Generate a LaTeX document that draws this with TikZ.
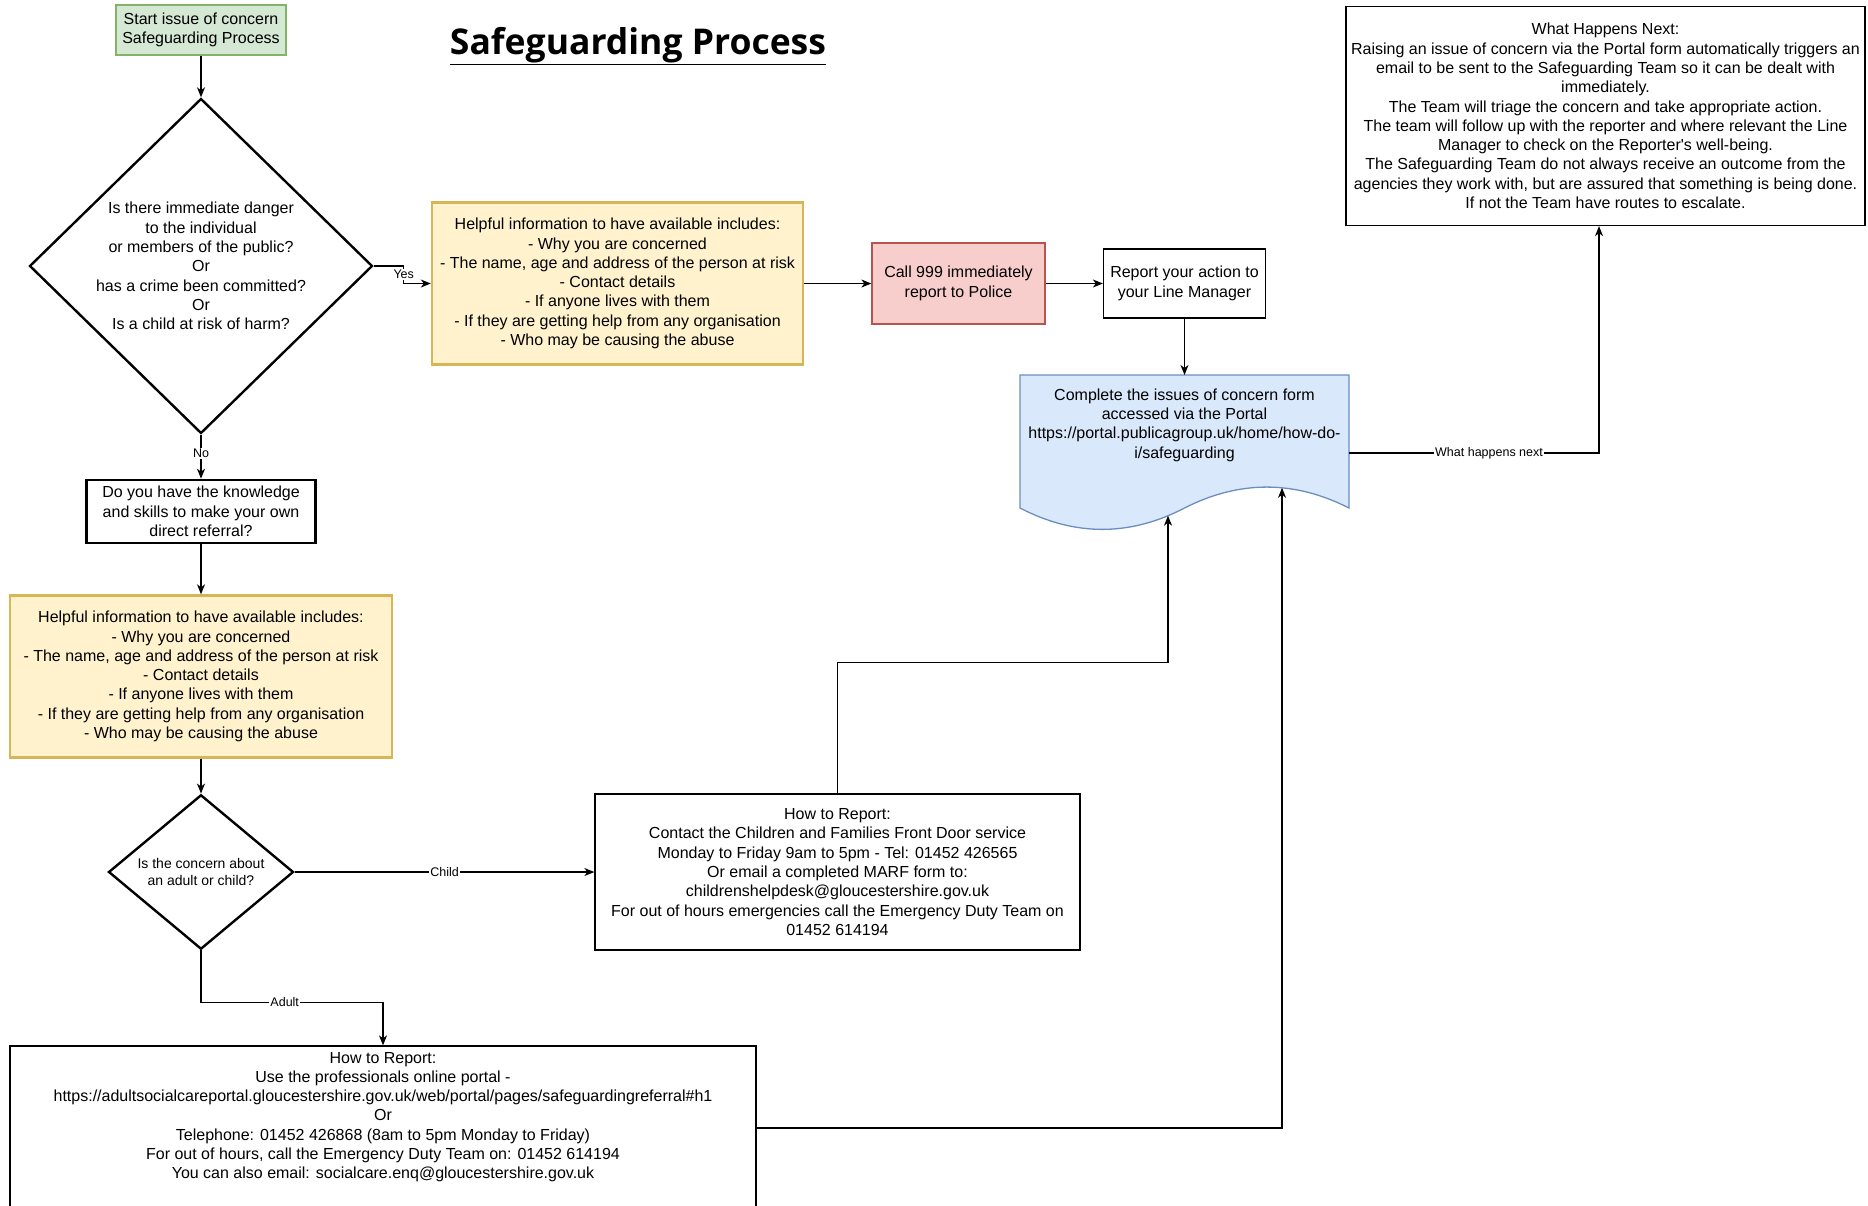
\documentclass[tikz,border=0pt]{standalone}
\usepackage{fontspec}
\setmainfont{Liberation Sans}
\newfontfamily\titlefont{Open Sans}
\usetikzlibrary{shapes.geometric, arrows.meta, calc}
\definecolor{greenfill}{HTML}{D5E8D4}
\definecolor{greenline}{HTML}{82B366}
\definecolor{yellowfill}{HTML}{FFF2CC}
\definecolor{yellowline}{HTML}{D6B656}
\definecolor{redfill}{HTML}{F8CECC}
\definecolor{redline}{HTML}{B85450}
\definecolor{bluefill}{HTML}{DAE8FC}
\definecolor{blueline}{HTML}{6C8EBF}
\tikzset{
    box/.style={
        rectangle, draw=black, fill=white, line width=1.3pt, inner sep=0pt,
        align=center, font=\fontsize{16}{19.3}\selectfont
    },
    startbox/.style={box, draw=greenline, fill=greenfill, line width=2pt},
    infobox/.style={box, draw=yellowline, fill=yellowfill, line width=2.4pt},
    policebox/.style={box, draw=redline, fill=redfill},
    boldbox/.style={box, line width=2.6pt},
    decision/.style={box, diamond, line width=2.4pt},
    doctext/.style={inner sep=0pt, align=center, font=\fontsize{16}{19.3}\selectfont},
    docshape/.style={draw=blueline, fill=bluefill, line width=1.3pt},
    arrow/.style={-{Stealth[length=10pt, width=8pt, inset=3pt]}, line width=1.2pt},
    edgelabel/.style={fill=white, inner sep=1pt, font=\fontsize{12.5}{14}\selectfont},
}
\begin{document}
\begin{tikzpicture}[x=1pt, y=-1pt]
\useasboundingbox (0,0) rectangle (1868,1205);

% title
\node[anchor=base, font=\titlefont\bfseries\fontsize{35.5}{40}\selectfont] (title) at (638,54) {\underline{Safeguarding Process}};

% left column
\node[startbox, minimum width=170, minimum height=50] (start) at (201,30) {Start issue of concern\\Safeguarding Process};
\node[decision, inner sep=-2pt, minimum width=343, minimum height=335] (danger) at (201,266)
    {Is there immediate danger\\to the individual\\or members of the public?\\Or\\has a crime been committed?\\Or\\Is a child at risk of harm?};
\node[boldbox, minimum width=229, minimum height=63] (skills) at (201,511.5)
    {Do you have the knowledge\\and skills to make your own\\direct referral?};
\node[infobox, minimum width=382, minimum height=162] (info2) at (201,676.5)
    {Helpful information to have available includes:\\- Why you are concerned\\- The name, age and address of the person at risk\\- Contact details\\- If anyone lives with them\\- If they are getting help from any organisation\\- Who may be causing the abuse};
\node[decision, font=\fontsize{14}{17.3}\selectfont, minimum width=185, minimum height=138] (who) at (201,872)
    {Is the concern about\\an adult or child?};

% top row
\node[infobox, minimum width=371, minimum height=162] (info1) at (617.5,283.5)
    {Helpful information to have available includes:\\- Why you are concerned\\- The name, age and address of the person at risk\\- Contact details\\- If anyone lives with them\\- If they are getting help from any organisation\\- Who may be causing the abuse};
\node[policebox, minimum width=173, minimum height=81] (police) at (958.5,283.5) {Call 999 immediately\\report to Police};
\node[box, minimum width=162, minimum height=69] (manager) at (1184.5,283.5) {Report your action to\\your Line Manager};
\node[box, minimum width=519, minimum height=219] (next) at (1605.5,116)
    {What Happens Next:\\Raising an issue of concern via the Portal form automatically triggers an\\email to be sent to the Safeguarding Team so it can be dealt with\\immediately.\\The Team will triage the concern and take appropriate action.\\The team will follow up with the reporter and where relevant the Line\\Manager to check on the Reporter\textquotesingle s well-being.\\The Safeguarding Team do not always receive an outcome from the\\agencies they work with, but are assured that something is being done.\\If not the Team have routes to escalate.};

% portal document
\coordinate (docN) at (1184.5,375);
\coordinate (docE) at (1349,453);
\coordinate (waveL) at (1168,515.7);
\coordinate (waveR) at (1282,487.8);
\draw[docshape] (1020,375) -- (1349,375) -- (1349,508)
    .. controls (1294.2,480.1) and (1239.3,480.1) .. (1184.5,508)
    .. controls (1129.7,536.5) and (1074.8,536.5) .. (1020,508) -- cycle;
\node[doctext] (portal) at (1184.5,425)
    {Complete the issues of concern form\\accessed via the Portal\\https://portal.publicagroup.uk/home/how-do-\\i/safeguarding};

% how to report
\node[box, minimum width=485, minimum height=156] (child) at (837.5,872)
    {How to Report:\\Contact the Children and Families Front Door service\\Monday to Friday 9am to 5pm - Tel: 01452 426565\\Or email a completed MARF form to:\\childrenshelpdesk@gloucestershire.gov.uk\\For out of hours emergencies call the Emergency Duty Team on\\01452 614194};
\node[box, minimum width=746, minimum height=164] (adult) at (383,1128)
    {How to Report:\\Use the professionals online portal -\\https://adultsocialcareportal.gloucestershire.gov.uk/web/portal/pages/safeguardingreferral\#h1\\Or\\Telephone: 01452 426868 (8am to 5pm Monday to Friday)\\For out of hours, call the Emergency Duty Team on: 01452 614194\\You can also email: socialcare.enq@gloucestershire.gov.uk\\ \strut};

% connectors
\draw[arrow] (start) -- (danger);
\draw[arrow] (danger.east) -- ++(30,0) |- node[edgelabel, pos=0.25] {Yes} (info1.west);
\draw[arrow] (info1) -- (police);
\draw[arrow] (police) -- (manager);
\draw[arrow] (manager.south) -- (docN);
\draw[arrow] (docE) -| node[edgelabel, pos=0.28] {What happens next} ([xshift=-6.5pt]next.south);
\draw[arrow] (danger.south) -- node[edgelabel, pos=0.42] {No} (skills.north);
\draw[arrow] (skills) -- (info2);
\draw[arrow] (info2) -- (who);
\draw[arrow] (who.east) -- node[edgelabel] {Child} (child.west);
\draw[arrow] (who.south) -- ++(0,52) -| node[edgelabel, pos=0.23] {Adult} (adult.north);
\draw[arrow] (child.north) -- ++(0,-131) -| (waveL);
\draw[arrow] (adult.east) -| (waveR);
\end{tikzpicture}
\end{document}
